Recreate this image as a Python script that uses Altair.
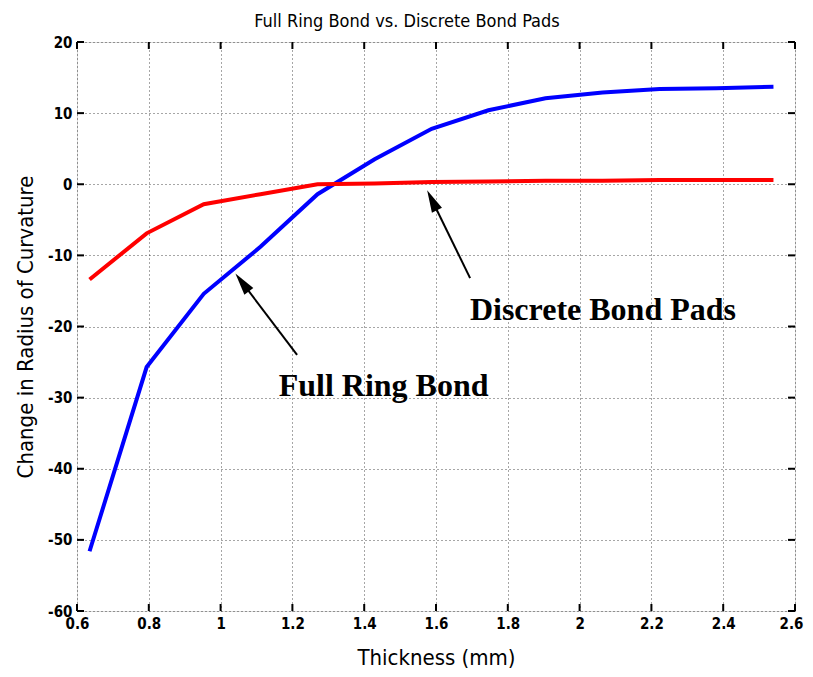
import altair as alt
import pandas as pd

thickness = [0.635, 0.794, 0.953, 1.111, 1.270, 1.429, 1.588, 1.746, 1.905, 2.064, 2.223, 2.381, 2.540]
full_ring = [-51.6, -25.7, -15.4, -8.8, -1.4, 3.5, 7.8, 10.4, 12.1, 12.9, 13.4, 13.5, 13.7]
discrete = [-13.4, -6.9, -2.8, -1.4, 0.0, 0.1, 0.3, 0.4, 0.5, 0.5, 0.6, 0.6, 0.6]

x_ticks = [0.6, 0.8, 1.0, 1.2, 1.4, 1.6, 1.8, 2.0, 2.2, 2.4, 2.6]
y_ticks = [-60, -50, -40, -30, -20, -10, 0, 10, 20]

labels = ["Discrete Bond Pads", "Full Ring Bond"]
label_x = [2.065, 1.454]
label_y = [-17.7, -28.4]

arrow_tail_x = [1.695, 1.213]
arrow_tail_y = [-13.2, -24.0]
arrow_tip_x = [1.589, 1.060]
arrow_tip_y = [-2.25, -13.8]
arrow_angle = [334, 323]

W, H = 718, 569
FONT = "'Liberation Sans Narrow', 'DejaVu Sans Condensed', 'Arial Narrow', 'Liberation Sans', Arial, sans-serif"

rows = []
for t, a, b in zip(thickness, full_ring, discrete):
    rows.append({"t": t, "v": a, "s": "Full Ring Bond"})
    rows.append({"t": t, "v": b, "s": "Discrete Bond Pads"})
df = pd.DataFrame(rows)

xs = alt.Scale(domain=[0.6, 2.6], nice=False, zero=False)
ys = alt.Scale(domain=[-60, 20], nice=False, zero=False)

xaxis = alt.Axis(values=x_ticks, grid=True, gridDash=[1, 3], gridColor="#000000", gridOpacity=0.7,
                 tickSize=0, domain=False, labelFont=FONT, labelFontWeight="bold", labelFontSize=15,
                 labelColor="black", labelPadding=5, titleFont=FONT, titleFontSize=22,
                 titleFontWeight="normal", titleColor="black", titlePadding=16, labelFlush=False,
                 labelOffset={"condition": {"test": "datum.value >= 2.59", "value": -4}, "value": 0},
                 labelExpr="datum.value == 1 ? '1' : datum.value == 2 ? '2' : format(datum.value, '.1f')")
yaxis = alt.Axis(values=y_ticks, grid=True, gridDash=[1, 3], gridColor="#000000", gridOpacity=0.7,
                 tickSize=0, domain=False, labelFont=FONT, labelFontWeight="bold", labelFontSize=15,
                 labelColor="black", labelPadding=5, titleFont=FONT, titleFontSize=22,
                 titleFontWeight="normal", titleColor="black", titlePadding=10, labelFlush=False,
                 labelExpr="'' + datum.value")

lines = alt.Chart(df).mark_line(strokeWidth=4, strokeCap="butt").encode(
    x=alt.X("t:Q", scale=xs, axis=xaxis, title="Thickness (mm)"),
    y=alt.Y("v:Q", scale=ys, axis=yaxis, title="Change in Radius of Curvature"),
    color=alt.Color("s:N", scale=alt.Scale(domain=["Full Ring Bond", "Discrete Bond Pads"],
                                            range=["#0000FF", "#FF0000"]), legend=None),
)

xt = pd.DataFrame({"t": x_ticks})
yt = pd.DataFrame({"v": y_ticks})
tick_bottom = alt.Chart(xt).mark_rule(color="black", strokeWidth=2).encode(
    x=alt.X("t:Q", scale=xs), y=alt.value(H), y2=alt.value(H - 7))
tick_top = alt.Chart(xt).mark_rule(color="black", strokeWidth=2).encode(
    x=alt.X("t:Q", scale=xs), y=alt.value(0), y2=alt.value(7))
tick_left = alt.Chart(yt).mark_rule(color="black", strokeWidth=2).encode(
    y=alt.Y("v:Q", scale=ys), x=alt.value(0), x2=alt.value(7))
tick_right = alt.Chart(yt).mark_rule(color="black", strokeWidth=2).encode(
    y=alt.Y("v:Q", scale=ys), x=alt.value(W), x2=alt.value(W - 7))

ann = pd.DataFrame({"label": labels, "lx": label_x, "ly": label_y,
                    "x1": arrow_tail_x, "y1": arrow_tail_y,
                    "x2": arrow_tip_x, "y2": arrow_tip_y, "ang": arrow_angle})

texts = alt.Chart(ann).mark_text(font="Liberation Serif", fontWeight="bold", fontSize=32,
                                 color="black", align="center", baseline="middle").encode(
    x=alt.X("lx:Q", scale=xs), y=alt.Y("ly:Q", scale=ys), text="label:N")

shafts = alt.Chart(ann).mark_rule(color="black", strokeWidth=2).encode(
    x=alt.X("x1:Q", scale=xs), y=alt.Y("y1:Q", scale=ys),
    x2="x2:Q", y2="y2:Q")

heads = alt.Chart(ann).mark_point(shape="M-0.5,1L0,-1L0.5,1Z", filled=True, color="black",
                                   opacity=1, size=500).encode(
    x=alt.X("x2:Q", scale=xs), y=alt.Y("y2:Q", scale=ys),
    angle=alt.Angle("ang:Q", scale=None))

chart = alt.layer(lines, tick_bottom, tick_top, tick_left, tick_right, shafts, heads, texts).properties(
    width=W, height=H,
    title=alt.TitleParams("Full Ring Bond vs. Discrete Bond Pads", font=FONT, fontSize=18,
                          fontWeight="normal", color="black", offset=4, dx=-29),
    autosize=alt.AutoSizeParams(type="none"),
    padding={"left": 69, "top": 34, "right": 10, "bottom": 58},
).configure_view(stroke="black", strokeWidth=2.5).configure(background="white")

chart.save("out.html", embed_options={"renderer": "svg", "actions": False})
